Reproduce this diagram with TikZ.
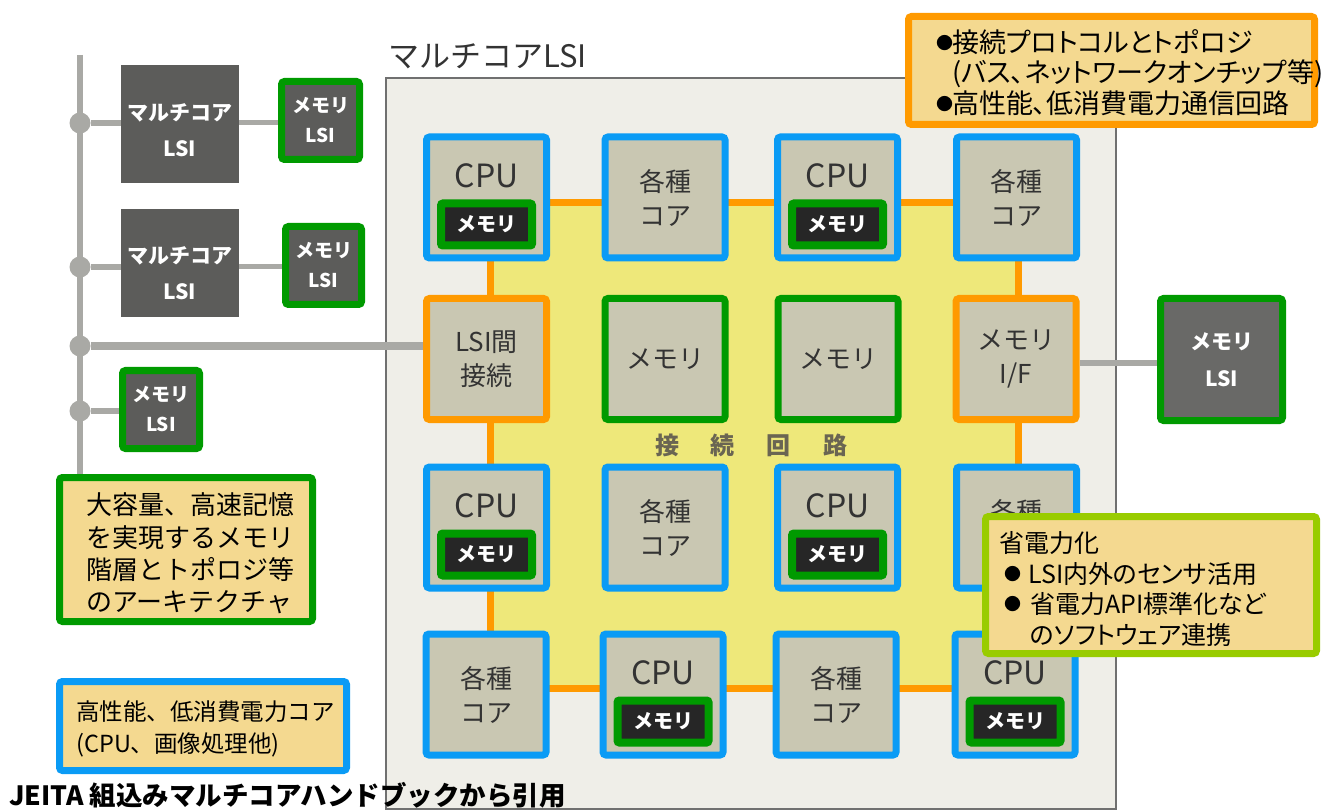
\documentclass[tikz,border=0pt]{standalone}
\usepackage{fontspec}
\setmainfont{Noto Sans CJK JP}
\newfontfamily\pfont[RawFeature=+palt]{Noto Sans CJK JP}
\usetikzlibrary{backgrounds}
\definecolor{cblue}{HTML}{0A9BF5}
\definecolor{corange}{HTML}{FF9A00}
\definecolor{cgreen}{HTML}{009A00}
\definecolor{clime}{HTML}{99CC00}
\definecolor{cbox}{HTML}{C9C7B2}
\definecolor{cdark}{HTML}{5C5C5A}
\definecolor{cnote}{HTML}{F4D990}
\definecolor{cyel}{HTML}{EEE87A}
\definecolor{cchip}{HTML}{EFEEE8}
\definecolor{cchipline}{HTML}{707070}
\definecolor{cbus}{HTML}{A9A9A5}
\definecolor{ctext}{HTML}{333333}
\definecolor{cring}{HTML}{6A6552}
\newcommand\blt[1]{\makebox[#1][l]{\raisebox{3pt}{\fontsize{17}{17}\selectfont ●}}}
\begin{document}
\begin{tikzpicture}[x=1pt,y=-1pt,
  core/.style={draw=cblue, line width=7pt, fill=cbox, rounded corners=3pt,
    minimum width=120pt, minimum height=121pt, inner sep=0pt, text=ctext,
    align=center, font=\fontsize{26}{34}\selectfont},
  ifbox/.style={core, draw=corange},
  membox/.style={core, draw=cgreen},
  cputext/.style={text=ctext, inner sep=0pt, font=\fontsize{32}{32}\selectfont},
  innermem/.style={draw=cgreen, line width=8pt, fill=black!85, rounded corners=2pt,
    minimum width=91pt, minimum height=42pt, inner sep=0pt, text=white,
    font=\fontsize{20}{20}\selectfont\bfseries},
  darklsi/.style={fill=cdark, minimum width=118pt, inner sep=0pt},
  whitetext/.style={text=white, inner sep=0pt, align=center},
  memlsi/.style={draw=cgreen, line width=7pt, fill=cdark, rounded corners=3pt,
    inner sep=0pt, text=white, align=center},
  dot/.style={circle, fill=cbus, minimum size=21pt, inner sep=0pt},
  busline/.style={draw=cbus, line width=6pt},
  ringline/.style={draw=corange, line width=7pt},
  note/.style={fill=cnote, line width=7pt, rounded corners=3pt, inner sep=0pt},
  notetext/.style={anchor=west, inner sep=0pt, align=left, text=black}
]
\useasboundingbox (0,0) rectangle (1323,810);

% ---- chip title
\node[anchor=west, inner sep=0pt, text=ctext, font=\fontsize{31}{31}\selectfont] (title) at (388,56) {マルチコアLSI};

% ---- core grid
\node[core] (r1c1) at (486.5,197.5) {};
\node[core] (r1c2) at (665,197.5) {各種\\コア};
\node[core] (r1c3) at (837.5,197.5) {};
\node[core] (r1c4) at (1016.5,197.5) {各種\\コア};
\node[ifbox] (r2c1) at (486.5,359) {LSI間\\接続};
\node[membox] (r2c2) at (665,359) {メモリ};
\node[membox] (r2c3) at (838,359) {メモリ};
\node[ifbox] (r2c4) at (1016,359) {メモリ\\I/F};
\node[core] (r3c1) at (486.5,527.5) {};
\node[core] (r3c2) at (665,527.5) {各種\\コア};
\node[core] (r3c3) at (837.5,527.5) {};
\node[core] (r3c4) at (1016.5,527.5) {各種\\コア};
\node[core] (r4c1) at (486,694.5) {各種\\コア};
\node[core] (r4c2) at (663,694.5) {};
\node[core] (r4c3) at (836,694.5) {各種\\コア};
\node[core] (r4c4) at (1015,694.5) {};

\foreach \c in {r1c1,r1c3,r3c1,r3c3,r4c2,r4c4}{
  \node[cputext] (\c cpu) at ([yshift=22pt]\c.center) {CPU};
  \node[innermem] (\c mem) at ([yshift=-27pt]\c.center) {メモリ};
}

\node[cring, inner sep=0pt, font=\fontsize{24}{24}\selectfont\bfseries] (ringlabel) at (751,445)
  {接\hspace{32pt}続\hspace{32pt}回\hspace{32pt}路};

% ---- off-chip LSIs (left)
\node[darklsi, minimum height=118pt] (lsi1) at (180,124) {};
\node[whitetext, font=\fontsize{21}{36}\selectfont\bfseries] at (180,130) {マルチコア\\LSI};
\node[darklsi, minimum height=108pt] (lsi2) at (180,263) {};
\node[whitetext, font=\fontsize{21}{36}\selectfont\bfseries] at (180,273) {マルチコア\\LSI};
\node[memlsi, minimum width=78pt, minimum height=78pt, font=\fontsize{19}{30}\selectfont\bfseries] (mem1) at (320.5,120.5) {メモリ\\LSI};
\node[memlsi, minimum width=76pt, minimum height=78pt, font=\fontsize{19}{30}\selectfont\bfseries] (mem2) at (323.5,265.5) {メモリ\\LSI};
\node[memlsi, minimum width=77pt, minimum height=78pt, font=\fontsize{19}{30}\selectfont\bfseries] (mem3) at (161,409.5) {メモリ\\LSI};
\node[memlsi, fill=cdark!92!white, minimum width=122pt, minimum height=122pt, font=\fontsize{21}{37}\selectfont\bfseries] (memR) at (1221.5,359.5) {メモリ\\LSI};

\node[dot] (d1) at (80,123) {};
\node[dot] (d2) at (80,267) {};
\node[dot] (d3) at (80,346) {};
\node[dot] (d4) at (80,411) {};
\coordinate (busTop) at (80,55);
\coordinate (busBot) at (80,476);

% ---- background drawing
\begin{scope}[on background layer]
  \fill[white] (0,0) rectangle (1323,810);
  \draw[fill=cchip, draw=cchipline, line width=1.6pt] (386,78) rectangle (1116,809);
  \coordinate (rNW) at (490,203);
  \coordinate (rSE) at (1018,688);
  \fill[cyel] (rNW) rectangle (rSE);
  \foreach \a/\b in {r1c1/r1c2,r1c2/r1c3,r1c3/r1c4}
    \draw[ringline] (\a |- rNW) -- (\b |- rNW);
  \foreach \a/\b in {r4c1/r4c2,r4c2/r4c3,r4c3/r4c4}
    \draw[ringline] (\a |- rSE) -- (\b |- rSE);
  \foreach \a/\b in {r1c1/r2c1,r2c1/r3c1,r3c1/r4c1}
    \draw[ringline] (\a -| rNW) -- (\b -| rNW);
  \foreach \a/\b in {r1c4/r2c4,r2c4/r3c4,r3c4/r4c4}
    \draw[ringline] (\a -| rSE) -- (\b -| rSE);
  % bus
  \draw[busline] (busTop) -- (busBot);
  \draw[busline] (d1) -- (lsi1.west |- d1);
  \draw[busline, line width=5pt] (lsi1.east |- d1) -- (mem1.west |- d1);
  \draw[busline] (d2) -- (lsi2.west |- d2);
  \draw[busline, line width=5pt] (lsi2.east |- d2) -- (mem2.west |- d2);
  \draw[busline, line width=8pt] (d3) -- (r2c1.west |- d3);
  \draw[busline] (d4) -- (mem3.west |- d4);
  \draw[busline] (r2c4.east |- 0,363) -- (memR.west |- 0,363);
\end{scope}

% ---- notes
\node[note, draw=corange, minimum width=406pt, minimum height=108pt] (noteT) at (1111.5,70.5) {};
\node[notetext, font=\pfont\fontsize{27}{30.5}\selectfont] at (936,72.5)
  {\blt{16pt}接続プロトコルとトポロジ\\\hspace*{16pt}(バス、ネットワークオンチップ等)\\\blt{16pt}高性能、低消費電力通信回路};

\node[note, draw=cgreen, minimum width=253pt, minimum height=144pt] (noteG) at (186,549.5) {};
\node[notetext, font=\fontsize{26}{32.3}\selectfont] at (86,553.5)
  {大容量、高速記憶\\を実現するメモリ\\階層とトポロジ等\\のアーキテクチャ};

\node[note, draw=cblue, minimum width=287pt, minimum height=89pt] (noteB) at (203,726) {};
\node[notetext, font=\fontsize{23.5}{32}\selectfont] at (76,729)
  {高性能、低消費電力コア\\(CPU、画像処理他)};

\node[note, draw=clime, minimum width=331pt, minimum height=137pt] (noteL) at (1151,585) {};
\node[notetext, font=\pfont\fontsize{25}{30.7}\selectfont] at (999,589)
  {省電力化\\\hspace*{5pt}\blt{24pt}LSI内外のセンサ活用\\\hspace*{5pt}\blt{26pt}省電力API標準化など\\\hspace*{31pt}のソフトウェア連携};

% ---- source
\node[anchor=base west, inner sep=0pt, font=\fontsize{26.5}{26.5}\selectfont\bfseries] (src) at (9,805)
  {JEITA 組込みマルチコアハンドブックから引用};
\end{tikzpicture}
\end{document}
